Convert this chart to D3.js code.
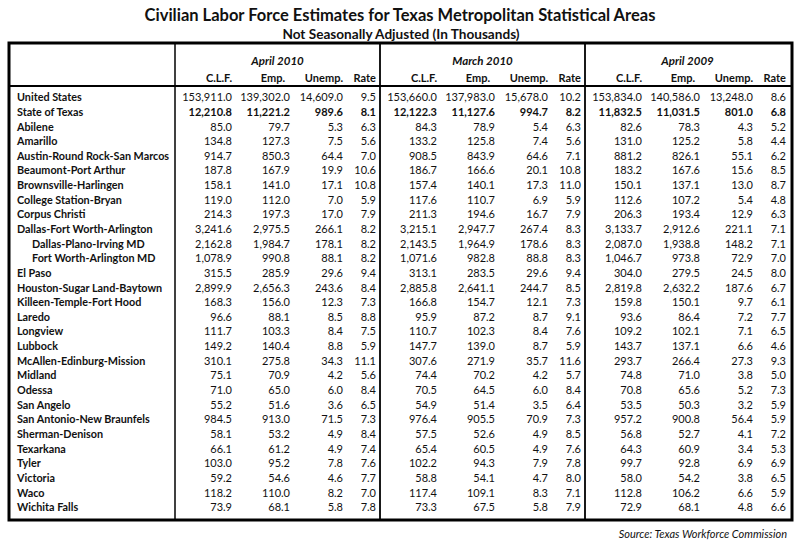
<!DOCTYPE html>
<html><head><meta charset="utf-8">
<script src="https://cdn.jsdelivr.net/npm/d3@7"></script>
<style>body{margin:0;background:#fff} text{font-family:Lato, "Open Sans", sans-serif; fill:#111}</style>
</head><body><svg id="c" width="800" height="543"></svg>
<script>
const title = "Civilian Labor Force Estimates for Texas Metropolitan Statistical Areas";
const subtitle = "Not Seasonally Adjusted (In Thousands)";
const source = "Source: Texas Workforce Commission";
const areas = ["United States","State of Texas","Abilene","Amarillo","Austin-Round Rock-San Marcos","Beaumont-Port Arthur","Brownsville-Harlingen","College Station-Bryan","Corpus Christi","Dallas-Fort Worth-Arlington","Dallas-Plano-Irving MD","Fort Worth-Arlington MD","El Paso","Houston-Sugar Land-Baytown","Killeen-Temple-Fort Hood","Laredo","Longview","Lubbock","McAllen-Edinburg-Mission","Midland","Odessa","San Angelo","San Antonio-New Braunfels","Sherman-Denison","Texarkana","Tyler","Victoria","Waco","Wichita Falls"];
const indentedAreas = ["Dallas-Plano-Irving MD","Fort Worth-Arlington MD"];
const boldValueAreas = ["State of Texas"];
const periods = ["April 2010","March 2010","April 2009"];
const measures = ["C.L.F.","Emp.","Unemp.","Rate"];

const apr2010Clf = [153911.0,12210.8,85.0,134.8,914.7,187.8,158.1,119.0,214.3,3241.6,2162.8,1078.9,315.5,2899.9,168.3,96.6,111.7,149.2,310.1,75.1,71.0,55.2,984.5,58.1,66.1,103.0,59.2,118.2,73.9];
const apr2010Emp = [139302.0,11221.2,79.7,127.3,850.3,167.9,141.0,112.0,197.3,2975.5,1984.7,990.8,285.9,2656.3,156.0,88.1,103.3,140.4,275.8,70.9,65.0,51.6,913.0,53.2,61.2,95.2,54.6,110.0,68.1];
const apr2010Unemp = [14609.0,989.6,5.3,7.5,64.4,19.9,17.1,7.0,17.0,266.1,178.1,88.1,29.6,243.6,12.3,8.5,8.4,8.8,34.3,4.2,6.0,3.6,71.5,4.9,4.9,7.8,4.6,8.2,5.8];
const apr2010Rate = [9.5,8.1,6.3,5.6,7.0,10.6,10.8,5.9,7.9,8.2,8.2,8.2,9.4,8.4,7.3,8.8,7.5,5.9,11.1,5.6,8.4,6.5,7.3,8.4,7.4,7.6,7.7,7.0,7.8];

const mar2010Clf = [153660.0,12122.3,84.3,133.2,908.5,186.7,157.4,117.6,211.3,3215.1,2143.5,1071.6,313.1,2885.8,166.8,95.9,110.7,147.7,307.6,74.4,70.5,54.9,976.4,57.5,65.4,102.2,58.8,117.4,73.3];
const mar2010Emp = [137983.0,11127.6,78.9,125.8,843.9,166.6,140.1,110.7,194.6,2947.7,1964.9,982.8,283.5,2641.1,154.7,87.2,102.3,139.0,271.9,70.2,64.5,51.4,905.5,52.6,60.5,94.3,54.1,109.1,67.5];
const mar2010Unemp = [15678.0,994.7,5.4,7.4,64.6,20.1,17.3,6.9,16.7,267.4,178.6,88.8,29.6,244.7,12.1,8.7,8.4,8.7,35.7,4.2,6.0,3.5,70.9,4.9,4.9,7.9,4.7,8.3,5.8];
const mar2010Rate = [10.2,8.2,6.3,5.6,7.1,10.8,11.0,5.9,7.9,8.3,8.3,8.3,9.4,8.5,7.3,9.1,7.6,5.9,11.6,5.7,8.4,6.4,7.3,8.5,7.6,7.8,8.0,7.1,7.9];

const apr2009Clf = [153834.0,11832.5,82.6,131.0,881.2,183.2,150.1,112.6,206.3,3133.7,2087.0,1046.7,304.0,2819.8,159.8,93.6,109.2,143.7,293.7,74.8,70.8,53.5,957.2,56.8,64.3,99.7,58.0,112.8,72.9];
const apr2009Emp = [140586.0,11031.5,78.3,125.2,826.1,167.6,137.1,107.2,193.4,2912.6,1938.8,973.8,279.5,2632.2,150.1,86.4,102.1,137.1,266.4,71.0,65.6,50.3,900.8,52.7,60.9,92.8,54.2,106.2,68.1];
const apr2009Unemp = [13248.0,801.0,4.3,5.8,55.1,15.6,13.0,5.4,12.9,221.1,148.2,72.9,24.5,187.6,9.7,7.2,7.1,6.6,27.3,3.8,5.2,3.2,56.4,4.1,3.4,6.9,3.8,6.6,4.8];
const apr2009Rate = [8.6,6.8,5.2,4.4,6.2,8.5,8.7,4.8,6.3,7.1,7.1,7.0,8.0,6.7,6.1,7.7,6.5,4.6,9.3,5.0,7.3,5.9,5.9,7.2,5.3,6.9,6.5,5.9,6.6];

const table = {
  "April 2010": [apr2010Clf, apr2010Emp, apr2010Unemp, apr2010Rate],
  "March 2010": [mar2010Clf, mar2010Emp, mar2010Unemp, mar2010Rate],
  "April 2009": [apr2009Clf, apr2009Emp, apr2009Unemp, apr2009Rate]
};

const svg = d3.select("#c");
const W = 800;
const box = {x0: 9, x1: 792, y0: 43, y1: 520, headerY: 86, nameRight: 175};

const y = d3.scaleBand().domain(areas).range([89.4, 514]);
const xGroup = d3.scaleBand().domain(periods).range([box.nameRight, 790]);
const colRight = d3.scaleOrdinal().domain(measures).range([57, 115, 168, 201]);
const fmt = d3.format(",.1f");

svg.append("text").attr("x", W/2).attr("y", 21).attr("text-anchor","middle")
  .style("font-size","16.5px").style("font-weight","bold").text(title);
svg.append("text").attr("x", W/2 + 1).attr("y", 39).attr("text-anchor","middle")
  .style("font-size","13.6px").style("font-weight","bold").text(subtitle);

// group headers
const g = svg.append("g");
periods.forEach(p => {
  const gx = xGroup(p);
  g.append("text").attr("x", gx + xGroup.bandwidth()/2).attr("y", 60).attr("text-anchor","middle")
    .attr("dominant-baseline","central").style("font-size","11.5px").style("font-weight","bold").style("font-style","italic").text(p);
  measures.forEach((m, i) => {
    g.append("text").attr("x", gx + colRight(m) - (m === "Emp." ? 5 : 0)).attr("y", 77).attr("text-anchor","end")
      .attr("dominant-baseline","central").style("font-size","11px").style("font-weight","bold").text(m);
    g.selectAll(null).data(areas).enter().append("text")
      .attr("x", gx + colRight(m))
      .attr("y", d => y(d) + y.bandwidth()/2)
      .attr("text-anchor","end").attr("dominant-baseline","central")
      .style("font-size","11px")
      .style("font-weight", d => boldValueAreas.includes(d) ? "bold" : "normal")
      .text((d, j) => fmt(table[p][i][j]));
  });
});

// names
svg.append("g").selectAll("text").data(areas).enter().append("text")
  .attr("x", d => indentedAreas.includes(d) ? 32 : 17)
  .attr("y", d => y(d) + y.bandwidth()/2)
  .attr("dominant-baseline","central")
  .style("font-size","10.8px").style("font-weight","bold").text(d => d);

// lines
const lines = svg.append("g").attr("stroke","#000").attr("fill","none");
lines.append("rect").attr("x", box.x0).attr("y", box.y0).attr("width", box.x1 - box.x0).attr("height", box.y1 - box.y0).attr("stroke-width", 3);
lines.append("line").attr("x1", box.x0).attr("x2", box.x1).attr("y1", box.headerY).attr("y2", box.headerY).attr("stroke-width", 2);
lines.append("line").attr("x1", box.nameRight).attr("x2", box.nameRight).attr("y1", box.y0).attr("y2", box.y1).attr("stroke-width", 1.5);
periods.slice(1).forEach(p => {
  lines.append("line").attr("x1", xGroup(p)).attr("x2", xGroup(p)).attr("y1", box.y0).attr("y2", box.y1).attr("stroke-width", 1.8);
});

svg.append("text").attr("x", 787).attr("y", 533).attr("text-anchor","end").attr("dominant-baseline","central")
  .style("font-size","11px").style("font-style","italic").text(source);
</script></body></html>
